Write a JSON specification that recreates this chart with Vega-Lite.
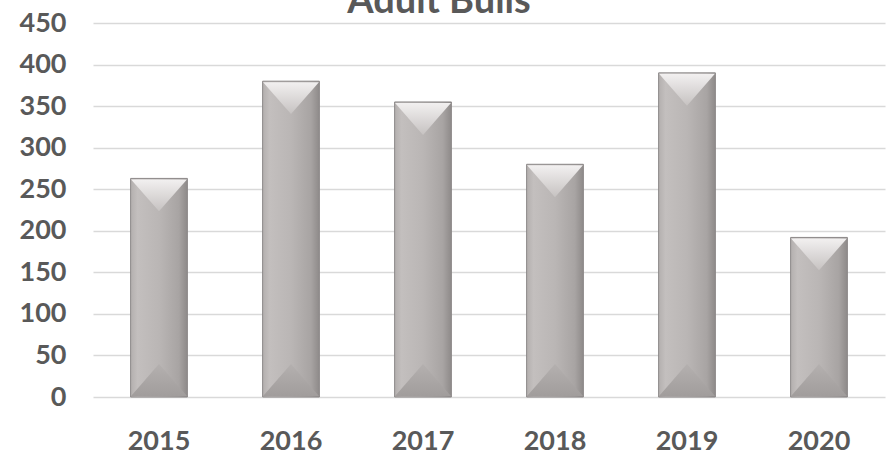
{
  "$schema": "https://vega.github.io/schema/vega-lite/v6.json",
  "autosize": {"type": "none"},
  "width": 792,
  "height": 374,
  "padding": {"left": 93, "top": 23, "right": 3, "bottom": 57},
  "background": "white",
  "config": {
    "view": {"stroke": null},
    "font": "Lato"
  },
  "datasets": {
    "bulls": [
      {"year": "2015", "count": 263},
      {"year": "2016", "count": 380},
      {"year": "2017", "count": 355},
      {"year": "2018", "count": 280},
      {"year": "2019", "count": 390},
      {"year": "2020", "count": 192}
    ],
    "heading": [
      {"label": "Adult Bulls", "top": 450}
    ]
  },
  "layer": [
    {
      "data": {"name": "bulls"},
      "mark": {
        "type": "bar",
        "stroke": "#8c8888",
        "strokeWidth": 1,
        "fill": {
          "gradient": "linear",
          "x1": 0, "y1": 0, "x2": 1, "y2": 0,
          "stops": [
            {"offset": 0, "color": "#b3afae"},
            {"offset": 0.12, "color": "#c3bfbe"},
            {"offset": 0.5, "color": "#bab6b5"},
            {"offset": 0.85, "color": "#a8a4a3"},
            {"offset": 1, "color": "#8e8a89"}
          ]
        }
      },
      "encoding": {
        "x": {
          "field": "year",
          "type": "nominal",
          "sort": null,
          "scale": {"paddingInner": 0.57, "paddingOuter": 0.285},
          "axis": {
            "title": null,
            "labelAngle": 0,
            "labelFont": "Lato",
            "labelFontSize": 27,
            "labelFontWeight": "bold",
            "labelColor": "#595959",
            "labelPadding": 31,
            "ticks": false,
            "domain": false,
            "grid": false
          }
        },
        "y": {
          "field": "count",
          "type": "quantitative",
          "scale": {"domain": [0, 450], "nice": false},
          "axis": {
            "title": null,
            "values": [0, 50, 100, 150, 200, 250, 300, 350, 400, 450],
            "labelFont": "Lato",
            "labelFontSize": 27,
            "labelFontWeight": "bold",
            "labelColor": "#595959",
            "labelPadding": 27,
            "ticks": false,
            "domain": false,
            "grid": true,
            "gridColor": "#d9d9d9",
            "gridWidth": 1.6
          }
        }
      }
    },
    {
      "data": {"name": "bulls"},
      "mark": {
        "type": "point",
        "filled": true,
        "shape": "M-0.98,0L0.98,0L0,1.12Z",
        "size": 3249,
        "opacity": 1,
        "strokeWidth": 0,
        "fill": {
          "gradient": "linear",
          "x1": 0, "y1": 0, "x2": 0, "y2": 1,
          "stops": [
            {"offset": 0, "color": "#f2f0f0"},
            {"offset": 1, "color": "#c6c2c1"}
          ]
        }
      },
      "encoding": {
        "x": {"field": "year", "type": "nominal", "sort": null},
        "y": {"field": "count", "type": "quantitative"},
        "yOffset": {"value": 1}
      }
    },
    {
      "data": {"name": "bulls"},
      "mark": {
        "type": "point",
        "filled": true,
        "shape": "M-0.98,0L0.98,0L0,-1.12Z",
        "size": 3249,
        "opacity": 1,
        "strokeWidth": 0,
        "fill": {
          "gradient": "linear",
          "x1": 0, "y1": 0, "x2": 0, "y2": 1,
          "stops": [
            {"offset": 0, "color": "#b4b0af"},
            {"offset": 1, "color": "#a19d9c"}
          ]
        }
      },
      "encoding": {
        "x": {"field": "year", "type": "nominal", "sort": null},
        "y": {"datum": 0, "type": "quantitative"},
        "yOffset": {"value": -1}
      }
    },
    {
      "data": {"name": "heading"},
      "mark": {
        "type": "text",
        "font": "Lato",
        "fontSize": 38,
        "fontWeight": "bold",
        "color": "#595959",
        "align": "center",
        "baseline": "alphabetic",
        "dx": -50,
        "dy": -10
      },
      "encoding": {
        "y": {"field": "top", "type": "quantitative"},
        "text": {"field": "label"}
      }
    }
  ]
}
